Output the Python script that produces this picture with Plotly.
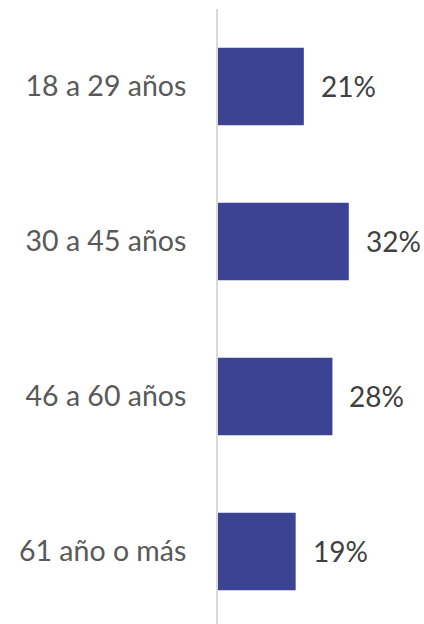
import plotly.graph_objects as go

categories = ["18 a 29 años", "30 a 45 años", "46 a 60 años", "61 año o más"]
values = [21, 32, 28, 19]
value_labels = ["21%", "32%", "28%", "19%"]

fig = go.Figure()
fig.add_trace(go.Bar(
    x=values, y=categories, orientation="h",
    marker=dict(color="#3B4392", line=dict(width=0)),
    width=0.5, hoverinfo="skip",
))
for c, v, t in zip(categories, values, value_labels):
    fig.add_annotation(x=v, y=c, text=t, showarrow=False, xanchor="left",
                       xshift=15, font=dict(family="Lato", size=28, color="#404040"))

fig.update_layout(
    width=424, height=624,
    margin=dict(l=218, r=0, t=9, b=0, autoexpand=False),
    plot_bgcolor="white", paper_bgcolor="white",
    showlegend=False,
    font=dict(family="Lato", size=28, color="#595959"),
)
fig.update_xaxes(range=[0, 50.4], visible=False, fixedrange=True)
fig.update_yaxes(
    categoryorder="array", categoryarray=categories,
    range=[3.468, -0.5], showline=True, linecolor="#D9D9D9", linewidth=2,
    showgrid=False, zeroline=False, ticks="", ticklabelstandoff=24,
    automargin=False, fixedrange=True,
    tickfont=dict(family="Lato", size=28.5, color="#595959"),
)
fig.write_html(
    "out.html",
    config={"displayModeBar": False, "staticPlot": True},
    post_script="document.body.style.margin='0';document.body.style.overflow='hidden';",
)
